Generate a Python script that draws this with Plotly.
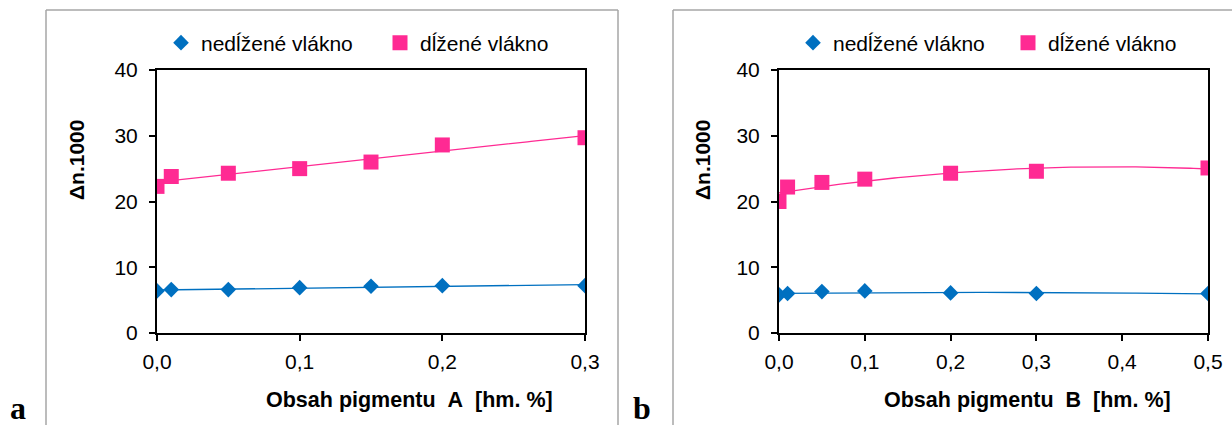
import numpy as np
import plotly.graph_objects as go

# --- data: pigment A ---
x_a = [0.0, 0.01, 0.05, 0.10, 0.15, 0.20, 0.30]
ned_a = [6.4, 6.6, 6.6, 6.9, 7.1, 7.2, 7.2]
dl_a = [22.3, 23.8, 24.3, 25.0, 26.0, 28.6, 29.7]

# --- data: pigment B ---
x_b = [0.0, 0.01, 0.05, 0.10, 0.20, 0.30, 0.50]
ned_b = [5.8, 6.0, 6.3, 6.4, 6.1, 6.0, 6.0]
dl_b = [20.0, 22.2, 22.9, 23.4, 24.3, 24.6, 25.1]

# tick labels (decimal comma)
xticks_a = [0.0, 0.1, 0.2, 0.3]
xticklabels_a = ["0,0", "0,1", "0,2", "0,3"]
xticks_b = [0.0, 0.1, 0.2, 0.3, 0.4, 0.5]
xticklabels_b = ["0,0", "0,1", "0,2", "0,3", "0,4", "0,5"]
yticks = [0, 10, 20, 30, 40]

name_ned = "nedĺžené vlákno"
name_dl = "dĺžené vlákno"
BLUE = "#0070C0"
PINK = "#FF2A93"

W, H = 1232, 425
FONT = "Liberation Sans, Arial, sans-serif"


def px_x(p):
    return p / W


def px_y(p):
    return 1 - p / H


def trend(x, y, deg, xmax):
    coef = np.polyfit(x, y, deg)
    xs = np.linspace(0, xmax, 120)
    return xs, np.polyval(coef, xs)


fig = go.Figure()

# panel a
tx, ty = trend(x_a, ned_a, 1, 0.3)
fig.add_trace(go.Scatter(x=tx, y=ty, mode="lines", line=dict(color=BLUE, width=1.3),
                         showlegend=False, xaxis="x", yaxis="y", hoverinfo="skip"))
tx, ty = trend(x_a, dl_a, 1, 0.3)
fig.add_trace(go.Scatter(x=tx, y=ty, mode="lines", line=dict(color=PINK, width=1.3),
                         showlegend=False, xaxis="x", yaxis="y", hoverinfo="skip"))
fig.add_trace(go.Scatter(x=x_a, y=ned_a, mode="markers", name=name_ned,
                         marker=dict(symbol="diamond", size=12, color=BLUE),
                         xaxis="x", yaxis="y", legend="legend"))
fig.add_trace(go.Scatter(x=x_a, y=dl_a, mode="markers", name=name_dl,
                         marker=dict(symbol="square", size=15, color=PINK),
                         xaxis="x", yaxis="y", legend="legend"))

# panel b
tx, ty = trend(x_b, ned_b, 2, 0.5)
fig.add_trace(go.Scatter(x=tx, y=ty, mode="lines", line=dict(color=BLUE, width=1.3),
                         showlegend=False, xaxis="x2", yaxis="y2", hoverinfo="skip"))
tx, ty = trend(x_b, dl_b, 2, 0.5)
fig.add_trace(go.Scatter(x=tx, y=ty, mode="lines", line=dict(color=PINK, width=1.3),
                         showlegend=False, xaxis="x2", yaxis="y2", hoverinfo="skip"))
fig.add_trace(go.Scatter(x=x_b, y=ned_b, mode="markers", name=name_ned,
                         marker=dict(symbol="diamond", size=12, color=BLUE),
                         xaxis="x2", yaxis="y2", legend="legend2"))
fig.add_trace(go.Scatter(x=x_b, y=dl_b, mode="markers", name=name_dl,
                         marker=dict(symbol="square", size=15, color=PINK),
                         xaxis="x2", yaxis="y2", legend="legend2"))

ydom = [px_y(333), px_y(70)]
axis_common = dict(showline=True, linecolor="black", linewidth=2, mirror=True,
                   showgrid=False, zeroline=False, ticks="outside", ticklen=6,
                   tickwidth=1.5, tickcolor="black", automargin=False,
                   tickfont=dict(family=FONT, size=21, color="black"))
xaxis_extra = dict(ticklabelstandoff=3)
yaxis_extra = dict(ticklabelstandoff=7)

legend_common = dict(orientation="h", y=px_y(43), xanchor="left", yanchor="middle",
                     font=dict(family=FONT, size=21, color="black"),
                     bgcolor="rgba(0,0,0,0)", itemwidth=30, traceorder="normal")

fig.update_layout(
    template="none",
    width=W, height=H,
    margin=dict(l=0, r=0, t=0, b=0, autoexpand=False),
    paper_bgcolor="white", plot_bgcolor="white",
    font=dict(family=FONT, color="black"),
    xaxis=dict(domain=[px_x(157), px_x(585)], range=[0, 0.3], anchor="y",
               tickvals=xticks_a, ticktext=xticklabels_a, **axis_common, **xaxis_extra),
    yaxis=dict(domain=ydom, range=[0, 40], anchor="x", tickvals=yticks,
               **axis_common, **yaxis_extra),
    xaxis2=dict(domain=[px_x(779), px_x(1208)], range=[0, 0.5], anchor="y2",
                tickvals=xticks_b, ticktext=xticklabels_b, **axis_common, **xaxis_extra),
    yaxis2=dict(domain=ydom, range=[0, 40], anchor="x2", tickvals=yticks,
                **axis_common, **yaxis_extra),
    legend=dict(x=px_x(161), entrywidth=174, **legend_common),
    legend2=dict(x=px_x(793), entrywidth=170, **legend_common),
)

# outer panel frames
frame = dict(type="line", xref="paper", yref="paper", line=dict(color="#A6A6A6", width=1.5))
shapes = [
    dict(x0=px_x(46), x1=px_x(46), y0=px_y(10), y1=0, **frame),
    dict(x0=px_x(46), x1=px_x(618), y0=px_y(10), y1=px_y(10), **frame),
    dict(x0=px_x(618), x1=px_x(618), y0=px_y(10), y1=0, **frame),
    dict(x0=px_x(673), x1=px_x(673), y0=px_y(10), y1=0, **frame),
    dict(x0=px_x(673), x1=1, y0=px_y(10), y1=px_y(10), **frame),
]
fig.update_layout(shapes=shapes)

sp = "\u00a0"
annots = [
    dict(text="Δn.1000", x=px_x(76), y=px_y(160), textangle=-90, size=21),
    dict(text="Δn.1000", x=px_x(702), y=px_y(160), textangle=-90, size=21),
    dict(text=f"Obsah pigmentu{sp}{sp}A{sp}{sp}[hm. %]", x=px_x(409), y=px_y(400), size=21.5),
    dict(text=f"Obsah pigmentu{sp}{sp}B{sp}{sp}[hm. %]", x=px_x(1027), y=px_y(400), size=21.5),
]
for a in annots:
    size = a.pop("size")
    fig.add_annotation(xref="paper", yref="paper", showarrow=False,
                       xanchor="center", yanchor="middle",
                       font=dict(family=FONT, size=size, color="black", weight="bold"), **a)

for letter, xp in (("a", 18), ("b", 642)):
    fig.add_annotation(text=letter, xref="paper", yref="paper", x=px_x(xp), y=px_y(408),
                       showarrow=False, xanchor="center", yanchor="middle",
                       font=dict(family="Liberation Serif, Times New Roman, serif",
                                 size=32, color="black", weight="bold"))

fig.write_html("out.html")
